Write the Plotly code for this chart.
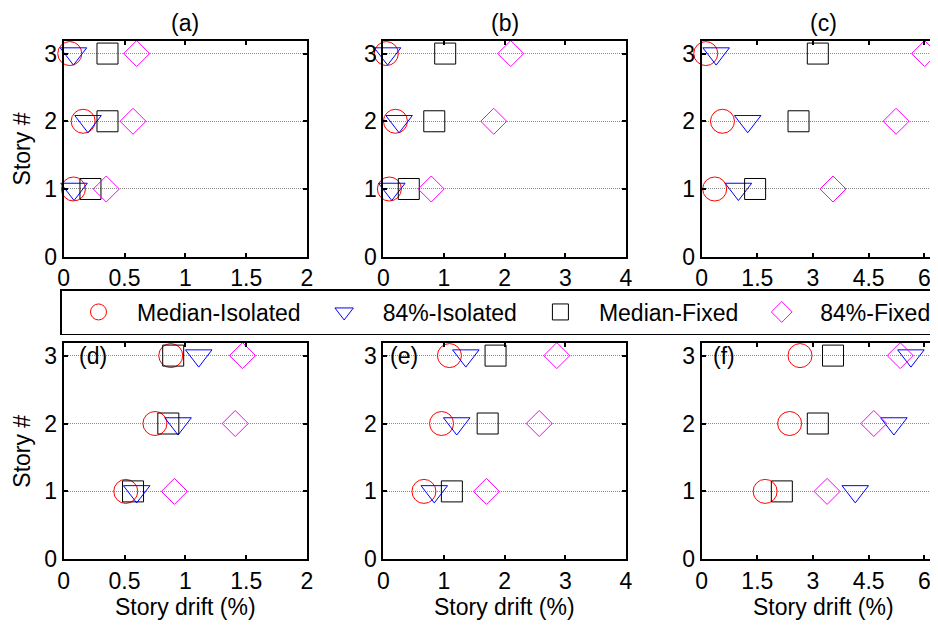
import plotly.graph_objects as go

stories = [1, 2, 3]

panel_labels = ["(a)", "(b)", "(c)", "(d)", "(e)", "(f)"]
series_names = ["Median-Isolated", "84%-Isolated", "Median-Fixed", "84%-Fixed"]

# story drift (%) for stories 1, 2, 3
a_med_iso = [0.08, 0.16, 0.05]
a_p84_iso = [0.085, 0.20, 0.08]
a_med_fix = [0.22, 0.36, 0.36]
a_p84_fix = [0.35, 0.57, 0.60]

b_med_iso = [0.10, 0.20, 0.05]
b_p84_iso = [0.14, 0.26, 0.07]
b_med_fix = [0.42, 0.84, 1.02]
b_p84_fix = [0.79, 1.82, 2.10]

c_med_iso = [0.35, 0.56, 0.11]
c_p84_iso = [0.99, 1.24, 0.39]
c_med_fix = [1.44, 2.61, 3.13]
c_p84_fix = [3.54, 5.24, 6.01]

d_med_iso = [0.51, 0.75, 0.88]
d_p84_iso = [0.60, 0.94, 1.11]
d_med_fix = [0.57, 0.86, 0.90]
d_p84_fix = [0.91, 1.41, 1.47]

e_med_iso = [0.67, 0.96, 1.09]
e_p84_iso = [0.84, 1.21, 1.36]
e_med_fix = [1.13, 1.72, 1.85]
e_p84_fix = [1.70, 2.57, 2.86]

f_med_iso = [1.71, 2.37, 2.65]
f_p84_iso = [4.14, 5.18, 5.64]
f_med_fix = [2.16, 3.13, 3.54]
f_p84_fix = [3.38, 4.64, 5.35]

x_ticks_a = [0, 0.5, 1, 1.5, 2]
x_ticks_b = [0, 1, 2, 3, 4]
x_ticks_c = [0, 1.5, 3, 4.5, 6]
y_ticks = [0, 1, 2, 3]

panels = [
    (a_med_iso, a_p84_iso, a_med_fix, a_p84_fix),
    (b_med_iso, b_p84_iso, b_med_fix, b_p84_fix),
    (c_med_iso, c_p84_iso, c_med_fix, c_p84_fix),
    (d_med_iso, d_p84_iso, d_med_fix, d_p84_fix),
    (e_med_iso, e_p84_iso, e_med_fix, e_p84_fix),
    (f_med_iso, f_p84_iso, f_med_fix, f_p84_fix),
]
col_ticks = [x_ticks_a, x_ticks_b, x_ticks_c]
col_ranges = [[0, 2], [0, 4], [0, 6.37]]

# page has an 8px body margin: figure is drawn at (8, 8)
OFF = 8
W, H = 938 - OFF, 626 - OFF
FONT = "Arial, Liberation Sans, sans-serif"
FS = 23


def px(xr):
    return (xr - OFF) / W


def py(yr):
    return 1 - (yr - OFF) / H


col_px = [(63.7, 307.0), (383.3, 626.0), (701.7, 938.0)]
row_px = [(40.7, 256.7), (342.7, 559.3)]

styles = [
    dict(symbol="circle-open", size=24, color="#FF0000"),
    dict(symbol="triangle-down-open", size=23, color="#0000FF"),
    dict(symbol="square-open", size=21, color="#000000"),
    dict(symbol="diamond-open", size=20, color="#FF00FF"),
]

fig = go.Figure()
layout = dict(
    width=W, height=H,
    margin=dict(l=0, r=0, t=0, b=0, autoexpand=False),
    paper_bgcolor="white", plot_bgcolor="white",
    font=dict(family=FONT, size=FS, color="black"),
    showlegend=True,
    legend=dict(
        orientation="h", x=px(60), y=py(289),
        xanchor="left", yanchor="top",
        bordercolor="black", borderwidth=1.5, bgcolor="white",
        font=dict(family=FONT, size=FS, color="black"),
        itemwidth=67, itemclick=False,
    ),
)
annotations = []

for i, data in enumerate(panels):
    r, c = divmod(i, 3)
    n = i + 1
    xa = "x" if n == 1 else f"x{n}"
    ya = "y" if n == 1 else f"y{n}"
    for k, (vals, st) in enumerate(zip(data, styles)):
        fig.add_trace(go.Scatter(
            x=vals, y=stories, mode="markers",
            name=series_names[k], showlegend=(i == 0),
            legendgroup=series_names[k],
            marker=dict(symbol=st["symbol"], size=st["size"], color=st["color"],
                        line=dict(width=1, color=st["color"])),
            xaxis=xa, yaxis=ya, cliponaxis=False,
        ))
    x0, x1 = col_px[c]
    y0, y1 = row_px[r]
    right_cut = (c == 2)
    layout["xaxis" if n == 1 else f"xaxis{n}"] = dict(
        domain=[px(x0), px(x1)], anchor=ya,
        range=col_ranges[c], tickvals=col_ticks[c],
        ticktext=[f"{v:g}" for v in col_ticks[c]],
        showline=True, linecolor="black", linewidth=2, mirror="ticks",
        ticks="inside", ticklen=4, tickwidth=1.5, tickcolor="black",
        showgrid=False, zeroline=False,
        tickfont=dict(family=FONT, size=FS, color="black"),
    )
    layout["yaxis" if n == 1 else f"yaxis{n}"] = dict(
        domain=[py(y1), py(y0)], anchor=xa,
        range=[0, 3.19], tickvals=y_ticks,
        showline=True, linecolor="black", linewidth=2,
        mirror=False if right_cut else "ticks",
        ticks="inside", ticklen=4, tickwidth=1.5, tickcolor="black",
        showgrid=True, gridcolor="#8c8c8c", griddash="1px,1px", gridwidth=1,
        zeroline=False,
        tickfont=dict(family=FONT, size=FS, color="black"),
    )
    xc = x0 + 243 / 2
    if r == 0:
        annotations.append(dict(
            text=panel_labels[i], xref="paper", yref="paper",
            x=px(xc), y=1.0,
            xanchor="center", yanchor="top", showarrow=False,
            font=dict(family=FONT, size=FS, color="black"),
        ))
    else:
        offs = [0.055, 0.02, 0.04][c]
        annotations.append(dict(
            text=panel_labels[i], xref=f"{xa} domain", yref=ya,
            x=offs, y=3, xanchor="left", yanchor="middle", showarrow=False,
            font=dict(family=FONT, size=FS, color="black"),
        ))
        annotations.append(dict(
            text="Story drift (%)", xref="paper", yref="paper",
            x=px(xc), y=py(607),
            xanchor="center", yanchor="middle", showarrow=False,
            font=dict(family=FONT, size=FS, color="black"),
        ))
    if c == 0:
        annotations.append(dict(
            text="Story #", xref="paper", yref="paper",
            x=px(21.7), y=py((y0 + y1) / 2), textangle=-90,
            xanchor="center", yanchor="middle", showarrow=False,
            font=dict(family=FONT, size=FS, color="black"),
        ))

layout["annotations"] = annotations
fig.update_layout(**layout)
fig.write_html("out.html")
